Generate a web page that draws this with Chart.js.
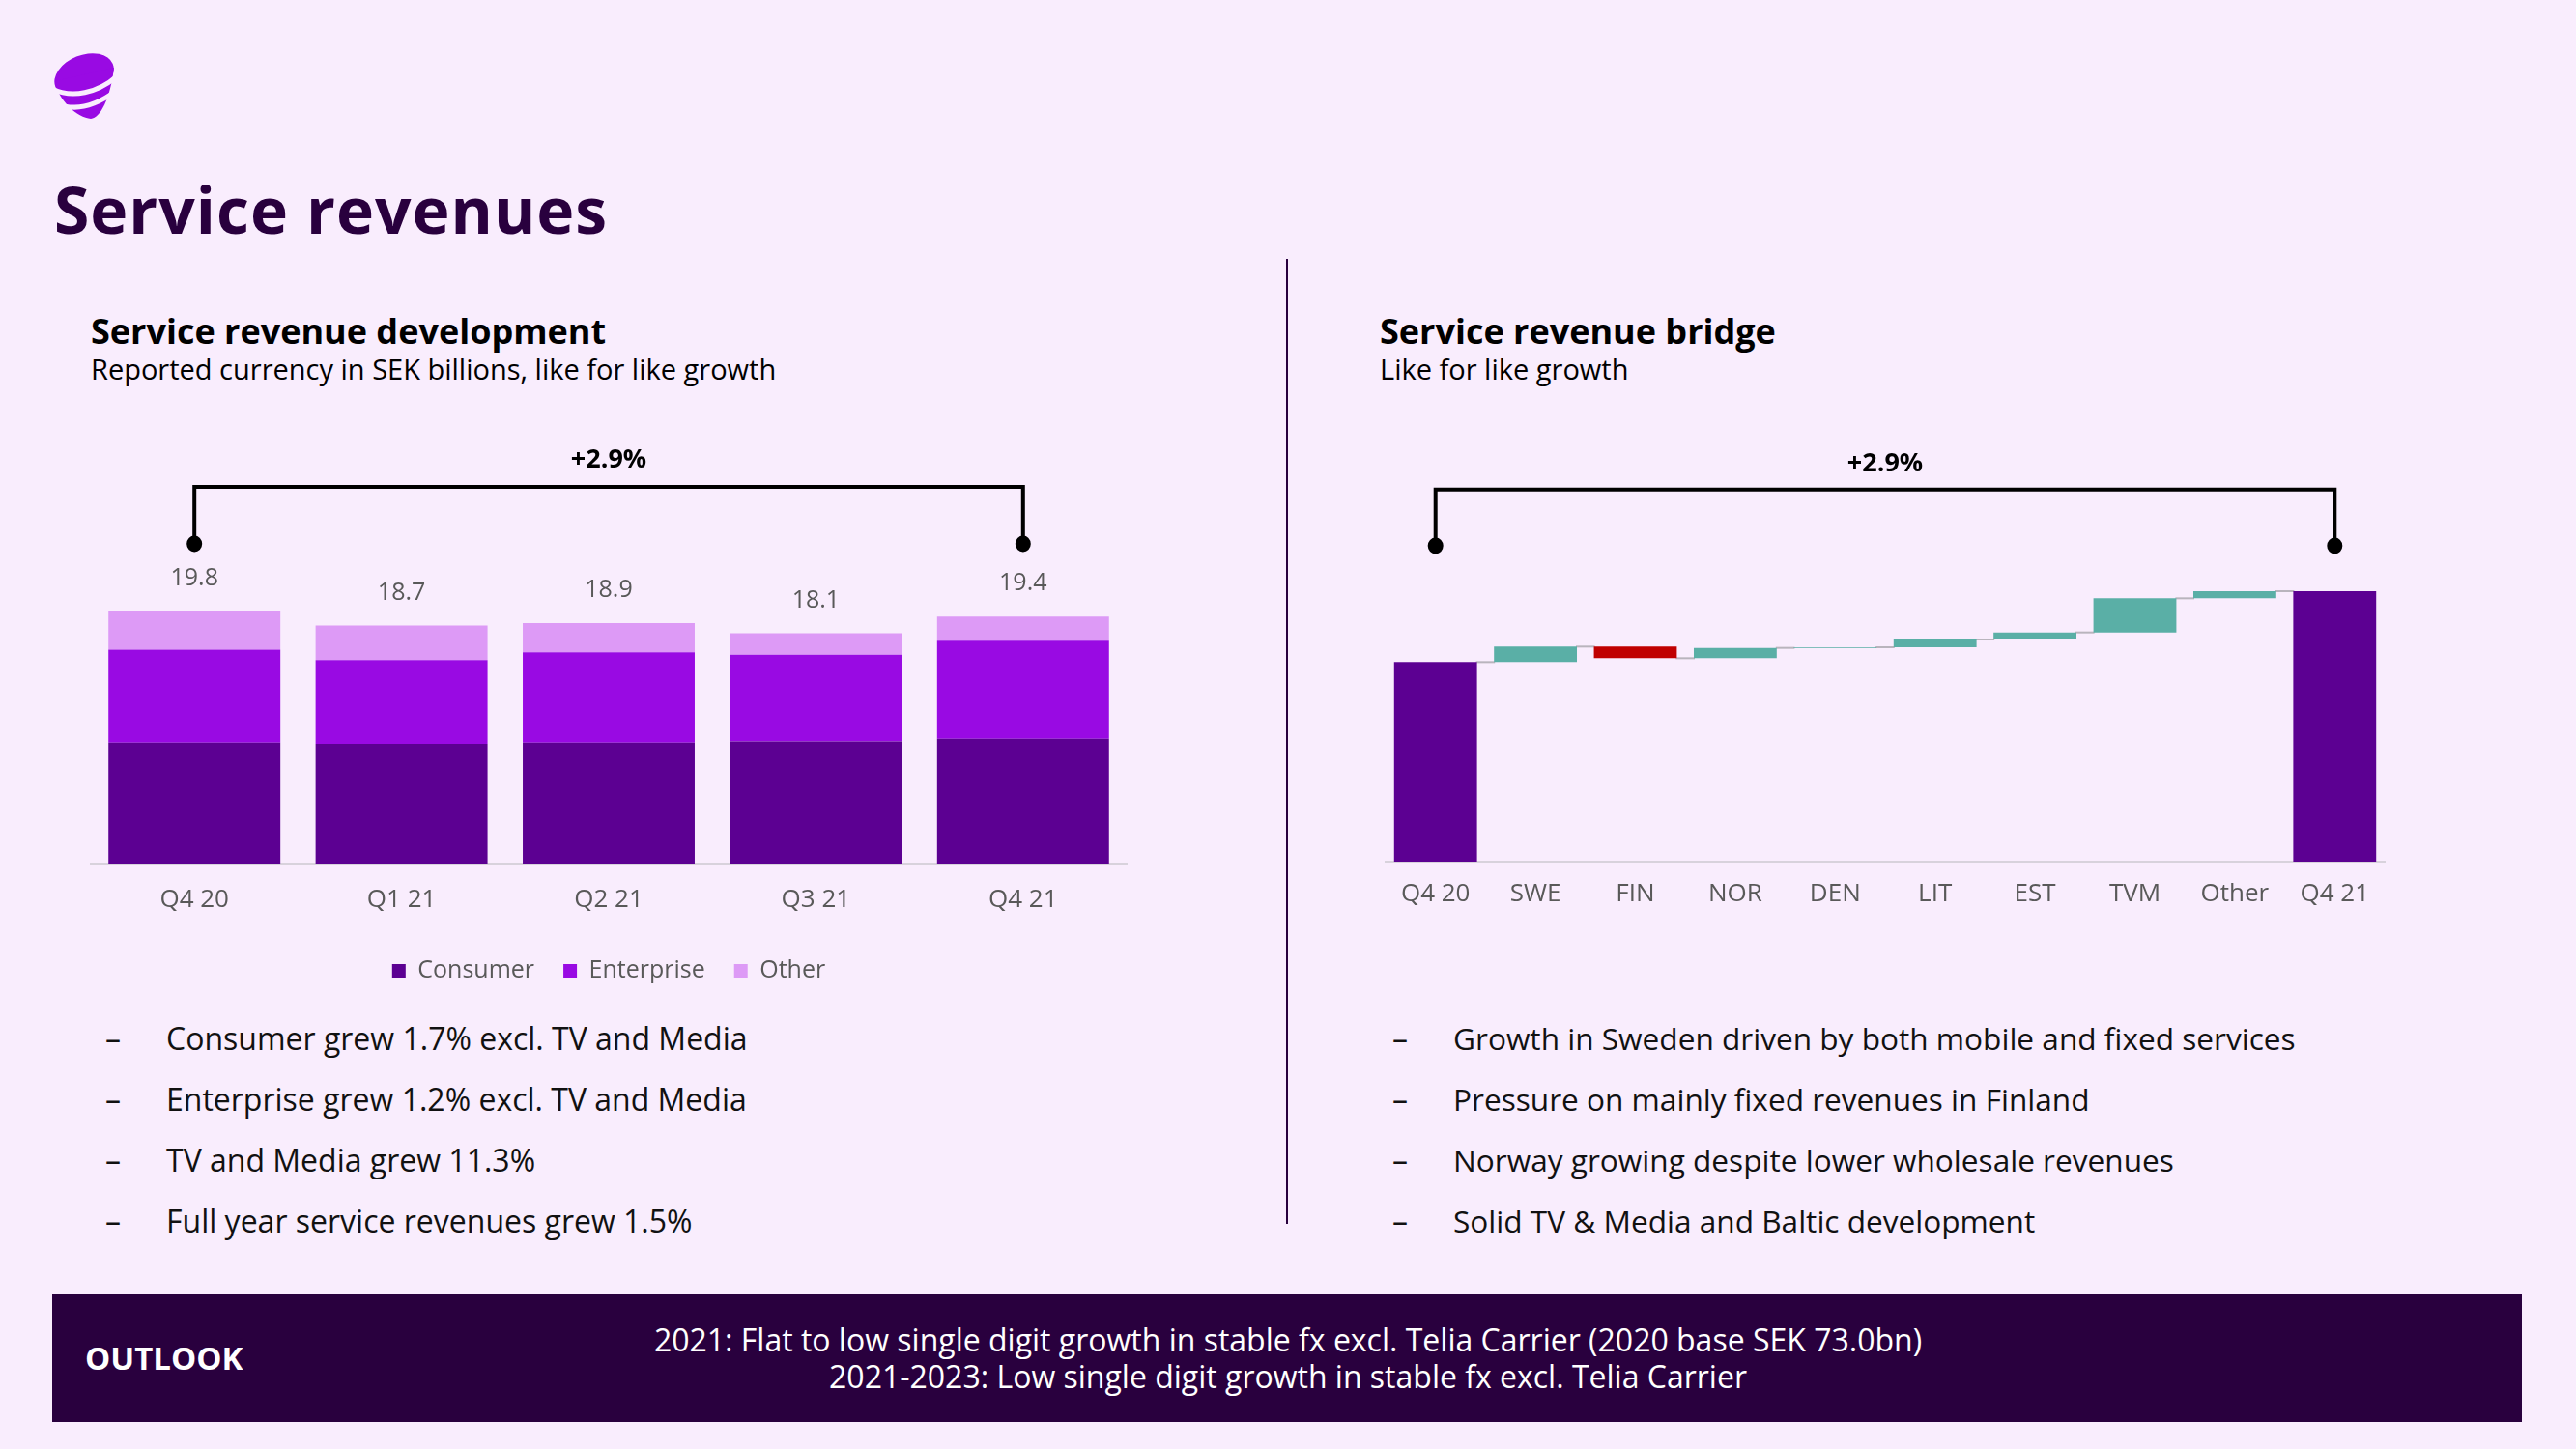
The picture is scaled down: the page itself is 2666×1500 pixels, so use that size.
<!DOCTYPE html>
<html><head><meta charset="utf-8">
<script src="https://cdn.jsdelivr.net/npm/chart.js@4.4.1/dist/chart.umd.min.js"></script>
<style>
html,body{margin:0;padding:0;background:#f9edfd;}
body{width:2666px;height:1500px;position:relative;overflow:hidden;font-family:'Open Sans',sans-serif;}
.t{position:absolute;white-space:nowrap;line-height:1;}
.h1{font-weight:700;font-size:66px;color:#29003e;letter-spacing:1px;}
.h2{font-weight:700;font-size:36px;color:#000;}
.sub{font-size:29px;color:#000;}
.bl{font-size:32px;color:#111;}
.box{position:absolute;}
</style></head><body>

<svg class="box" style="left:54px;top:54px" width="66" height="70" viewBox="0 0 66 70">
  <ellipse cx="33" cy="24" rx="32" ry="21" transform="rotate(-22 33 24)" fill="#990ae3"/>
  <path d="M3 30 C6 50 26 68 40 69 C50 68 60 48 64 16 Z" fill="#990ae3"/>
  <path d="M-2 37 C20 49 48 42 68 24" stroke="#f9edfd" stroke-width="5" fill="none"/>
  <path d="M4 53 C24 62 46 55 66 40" stroke="#f9edfd" stroke-width="5" fill="none"/>
</svg>

<div class="t h1" style="left:56px;top:183px">Service revenues</div>

<div class="t h2" style="left:94px;top:325px">Service revenue development</div>
<div class="t sub" style="left:94px;top:367px">Reported currency in SEK billions, like for like growth</div>

<div class="t h2" style="left:1428px;top:325px">Service revenue bridge</div>
<div class="t sub" style="left:1428px;top:367px">Like for like growth</div>

<div class="box" style="left:1331px;top:268px;width:2px;height:999px;background:#29003e"></div>

<div class="box" style="left:60px;top:420px;width:1140px;height:620px"><canvas id="left"></canvas></div>
<div class="box" style="left:1400px;top:420px;width:1100px;height:540px"><canvas id="right"></canvas></div>

<div id="bulletsL"></div>
<div id="bulletsR"></div>

<div class="box" style="left:54px;top:1340px;width:2556px;height:132px;background:#29003e"></div>
<div class="t" style="left:88px;top:1389px;font-size:33px;font-weight:700;color:#fff">OUTLOOK</div>
<div class="box" style="left:54px;top:1368px;width:2558px;text-align:center;font-size:32px;line-height:38px;color:#fff;white-space:nowrap">2021: Flat to low single digit growth in stable fx excl. Telia Carrier (2020 base SEK 73.0bn)<br>2021-2023: Low single digit growth in stable fx excl. Telia Carrier</div>

<script>
// ---------- DATA ----------
const quarters = ['Q4 20', 'Q1 21', 'Q2 21', 'Q3 21', 'Q4 21'];
const consumer = [9.5, 9.4, 9.5, 9.6, 9.8];
const enterprise = [7.3, 6.6, 7.1, 6.8, 7.7];
const other = [3.0, 2.7, 2.3, 1.7, 1.9];
const totals = [19.8, 18.7, 18.9, 18.1, 19.4];
const growthLabel = '+2.9%';

const bridgeLabels = ['Q4 20', 'SWE', 'FIN', 'NOR', 'DEN', 'LIT', 'EST', 'TVM', 'Other', 'Q4 21'];
const bridgeStart = 18.85;
const bridgeDeltas = [0.12, -0.09, 0.08, 0.005, 0.06, 0.055, 0.265, 0.055];
const bridgeEnd = 19.4;

const bulletsLeft = [
  'Consumer grew 1.7% excl. TV and Media',
  'Enterprise grew 1.2% excl. TV and Media',
  'TV and Media grew 11.3%',
  'Full year service revenues grew 1.5%'
];
const bulletsRight = [
  'Growth in Sweden driven by both mobile and fixed services',
  'Pressure on mainly fixed revenues in Finland',
  'Norway growing despite lower wholesale revenues',
  'Solid TV & Media and Baltic development'
];

// ---------- BULLETS ----------
const bulletTops = [1058.6, 1122, 1184.6, 1248];
function addBullets(id, list, dashX, textX, size) {
  const host = document.getElementById(id);
  list.forEach((txt, i) => {
    const d = document.createElement('div');
    d.className = 't bl'; d.style.left = dashX + 'px'; d.style.top = bulletTops[i] + 'px';
    d.textContent = '\u2013'; host.appendChild(d);
    const s = document.createElement('div');
    s.className = 't bl'; s.style.left = textX + 'px'; s.style.top = bulletTops[i] + 'px';
    s.style.fontSize = size + 'px';
    s.textContent = txt; host.appendChild(s);
  });
}
addBullets('bulletsL', bulletsLeft, 109, 172, 32);
addBullets('bulletsR', bulletsRight, 1441, 1504, 31.6);

// ---------- CHARTS ----------
Chart.defaults.font.family = "'Open Sans', sans-serif";
Chart.defaults.color = '#595959';
Chart.defaults.animation = false;

function drawBracket(ctx, x1, x2, yLine, yDot, text, yText) {
  ctx.save();
  ctx.strokeStyle = '#000'; ctx.fillStyle = '#000'; ctx.lineWidth = 4;
  ctx.beginPath();
  ctx.moveTo(x1, yDot); ctx.lineTo(x1, yLine); ctx.lineTo(x2, yLine); ctx.lineTo(x2, yDot);
  ctx.stroke();
  [x1, x2].forEach(x => { ctx.beginPath(); ctx.ellipse(x, yDot, 8, 8.5, 0, 0, Math.PI * 2); ctx.fill(); });
  ctx.font = "700 27px 'Open Sans'"; ctx.textAlign = 'center'; ctx.textBaseline = 'middle';
  ctx.fillText(text, (x1 + x2) / 2, yText);
  ctx.restore();
}

const leftDecor = {
  id: 'leftDecor',
  afterDatasetsDraw(chart) {
    const { ctx, scales: { x, y } } = chart;
    ctx.save();
    ctx.font = "25px 'Open Sans'"; ctx.fillStyle = '#595959';
    ctx.textAlign = 'center'; ctx.textBaseline = 'middle';
    totals.forEach((v, i) => {
      ctx.fillText(v.toFixed(1), x.getPixelForValue(i), y.getPixelForValue(v) - 34);
    });
    ctx.restore();
    drawBracket(ctx, x.getPixelForValue(0), x.getPixelForValue(quarters.length - 1), 84, 143, growthLabel, 56);
  }
};

new Chart(document.getElementById('left'), {
  type: 'bar',
  data: {
    labels: quarters,
    datasets: [
      { label: 'Consumer', data: consumer, backgroundColor: '#5c0092' },
      { label: 'Enterprise', data: enterprise, backgroundColor: '#990ae3' },
      { label: 'Other', data: other, backgroundColor: '#dd9af6' }
    ]
  },
  options: {
    responsive: true, maintainAspectRatio: false, devicePixelRatio: 1,
    datasets: { bar: { barPercentage: 0.83, categoryPercentage: 1, borderWidth: 0 } },
    layout: { padding: { top: 157.7, left: 34, right: 34, bottom: 12.5 } },
    plugins: {
      tooltip: { enabled: false },
      legend: {
        position: 'bottom',
        labels: { boxWidth: 14, boxHeight: 14, padding: 30, color: '#595959', font: { size: 25 } }
      }
    },
    scales: {
      x: {
        stacked: true,
        grid: { display: false, drawTicks: false },
        border: { display: true, color: '#d8d2dc', width: 2 },
        ticks: { padding: 22, font: { size: 26 }, color: '#595959' },
        afterFit(s) { s.height = 68.5; }
      },
      y: { stacked: true, display: false, min: 0, max: 24 }
    }
  },
  plugins: [leftDecor]
});

// bridge data
const bridgeData = [bridgeStart];
const levels = [bridgeStart];
let lvl = bridgeStart;
bridgeDeltas.forEach(d => { bridgeData.push([lvl, lvl + d]); lvl += d; levels.push(lvl); });
bridgeData.push(bridgeEnd); levels.push(bridgeEnd);
const bridgeColors = bridgeData.map((v, i) =>
  (i === 0 || i === bridgeData.length - 1) ? '#5c0092' : (bridgeDeltas[i - 1] < 0 ? '#c00000' : '#5aafa6'));

const rightDecor = {
  id: 'rightDecor',
  beforeDatasetsDraw(chart) {
    const { ctx, scales: { y } } = chart;
    const bars = chart.getDatasetMeta(0).data;
    ctx.save();
    ctx.strokeStyle = '#b9b4bd'; ctx.lineWidth = 2;
    for (let i = 0; i < bars.length - 1; i++) {
      const yy = y.getPixelForValue(levels[i]);
      ctx.beginPath();
      ctx.moveTo(bars[i].x + bars[i].width / 2 - 1, yy);
      ctx.lineTo(bars[i + 1].x - bars[i + 1].width / 2 + 1, yy);
      ctx.stroke();
    }
    ctx.restore();
  },
  afterDatasetsDraw(chart) {
    const { ctx, scales: { x } } = chart;
    drawBracket(ctx, x.getPixelForValue(0), x.getPixelForValue(bridgeLabels.length - 1), 86.7, 145, growthLabel, 60);
  }
};

new Chart(document.getElementById('right'), {
  type: 'bar',
  data: {
    labels: bridgeLabels,
    datasets: [{ label: 'Bridge', data: bridgeData, backgroundColor: bridgeColors }]
  },
  options: {
    responsive: true, maintainAspectRatio: false, devicePixelRatio: 1,
    datasets: { bar: { barPercentage: 0.83, categoryPercentage: 1, borderWidth: 0, borderSkipped: false } },
    layout: { padding: { top: 112, left: 34, right: 32, bottom: 12 } },
    plugins: { tooltip: { enabled: false }, legend: { display: false } },
    scales: {
      x: {
        grid: { display: false, drawTicks: false },
        border: { display: true, color: '#d8d2dc', width: 2 },
        ticks: { padding: 17.5, font: { size: 26 }, color: '#595959' },
        afterFit(s) { s.height = 56; }
      },
      y: { display: false, min: 17.3, max: 20.0 }
    }
  },
  plugins: [rightDecor]
});
</script>
</body></html>
